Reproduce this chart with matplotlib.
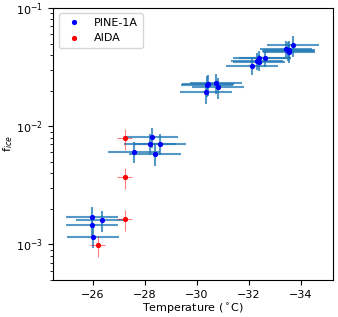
import matplotlib
matplotlib.use('Agg')
import matplotlib.pyplot as plt
import numpy as np

# PINE-1A
pine_T = [-25.97, -26.37, -25.97, -26.02,
          -28.29, -28.20, -28.60, -27.60, -28.41,
          -30.45, -30.41, -30.75, -30.83, -30.37,
          -32.14, -32.31, -32.41, -32.40, -32.64,
          -33.43, -33.50, -33.54, -33.56, -33.72]
pine_f = [1.71e-3, 1.60e-3, 1.46e-3, 1.16e-3,
          8.1e-3, 7.1e-3, 7.1e-3, 6.1e-3, 5.8e-3,
          0.0226, 0.0222, 0.0232, 0.0213, 0.0194,
          0.0323, 0.0356, 0.0375, 0.0347, 0.0375,
          0.0448, 0.0435, 0.0421, 0.0441, 0.0483]
pine_Terr = [1.0] * len(pine_T)
pine_ferr = [0.2, 0.2, 0.2, 0.2,
             0.2, 0.2, 0.2, 0.2, 0.2,
             0.2, 0.2, 0.2, 0.2, 0.2,
             0.16, 0.16, 0.16, 0.16, 0.16,
             0.18, 0.18, 0.18, 0.18, 0.2]

# AIDA
aida_T = [-27.22, -27.22, -27.22, -26.18]
aida_f = [7.9e-3, 3.7e-3, 1.63e-3, 9.8e-4]
aida_Terr = [0.3, 0.3, 0.3, 0.3]
aida_ferr = [0.2, 0.2, 0.2, 0.2]

pine_f = np.array(pine_f)
aida_f = np.array(aida_f)

fig = plt.figure(figsize=(3.38, 3.17), dpi=100)
ax = fig.add_axes([0.157, 0.117, 0.828, 0.858])

ax.errorbar(pine_T, pine_f, xerr=pine_Terr, yerr=pine_f * np.array(pine_ferr),
            fmt='none', ecolor='C0', elinewidth=1.5, alpha=0.75)
ax.errorbar(aida_T, aida_f, xerr=aida_Terr, yerr=aida_f * np.array(aida_ferr),
            fmt='none', ecolor='red', elinewidth=0.8, alpha=0.5)
ax.plot(pine_T, pine_f, 'b.', ms=5.5, label='PINE-1A')
ax.plot(aida_T, aida_f, 'r.', ms=5.5, label='AIDA')

ax.set_yscale('log')
ax.set_ylim(5e-4, 1e-1)
ax.set_xlim(-24.47, -35.24)
ax.set_xticks([-26, -28, -30, -32, -34])
ax.set_xlabel('Temperature ($^\\circ$C)', fontsize=8, labelpad=2)
ax.set_ylabel('f$_{ice}$', fontsize=8, labelpad=1)
ax.tick_params(labelsize=8)
ax.legend(loc='upper left', fontsize=8)

fig.savefig('out.png', dpi=100)
